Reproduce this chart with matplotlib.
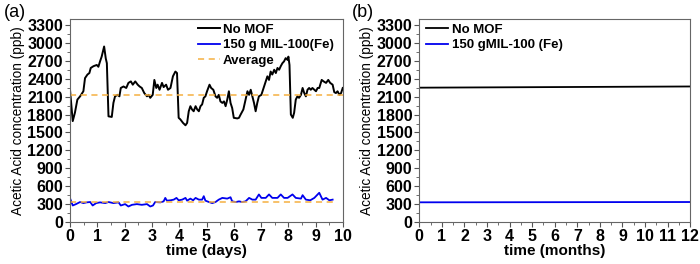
import numpy as np
import matplotlib
matplotlib.use("Agg")
import matplotlib.pyplot as plt
from matplotlib.ticker import MultipleLocator

plt.rcParams["font.family"] = ["Liberation Sans", "DejaVu Sans"]

# panel (a): daily trace without MOF
days_nomof = [0.0, 0.1, 0.18, 0.27, 0.37, 0.49, 0.55, 0.64, 0.71, 0.76, 0.86, 0.98, 1.04, 1.10,
              1.16, 1.25, 1.31, 1.35, 1.41, 1.53, 1.59, 1.65, 1.74, 1.81, 1.86, 1.96, 2.06, 2.14,
              2.23, 2.30, 2.39, 2.48, 2.55, 2.63, 2.72, 2.82, 2.88, 2.94, 3.03, 3.09, 3.16, 3.21,
              3.28, 3.37, 3.43, 3.52, 3.59, 3.68, 3.77, 3.86, 3.92, 3.98, 4.04, 4.14, 4.23, 4.29,
              4.35, 4.41, 4.47, 4.53, 4.60, 4.66, 4.72, 4.78, 4.84, 4.90, 4.96, 5.02, 5.11, 5.17,
              5.25, 5.33, 5.39, 5.45, 5.51, 5.58, 5.64, 5.70, 5.76, 5.82, 5.88, 5.94, 6.00, 6.13,
              6.19, 6.25, 6.35, 6.43, 6.50, 6.56, 6.62, 6.68, 6.74, 6.80, 6.86, 6.92, 7.01, 7.11,
              7.17, 7.23, 7.29, 7.35, 7.41, 7.48, 7.54, 7.60, 7.66, 7.72, 7.78, 7.84, 7.90, 7.97,
              8.00, 8.04, 8.09, 8.16, 8.21, 8.27, 8.33, 8.39, 8.46, 8.52, 8.58, 8.64, 8.70, 8.76,
              8.82, 8.88, 8.95, 9.01, 9.07, 9.13, 9.22, 9.29, 9.38, 9.46, 9.53, 9.62, 9.68, 9.74,
              9.80, 9.87, 9.93, 9.99]
ppb_nomof = [2217, 1690, 1830, 2050, 2105, 2190, 2410, 2470, 2495, 2580, 2610, 2630, 2600, 2690,
             2770, 2940, 2740, 2660, 1770, 1760, 1995, 2105, 2130, 2105, 2245, 2270, 2245, 2330,
             2355, 2300, 2355, 2300, 2270, 2245, 2160, 2105, 2130, 2080, 2130, 2380, 2245, 2300,
             2215, 2330, 2260, 2300, 2215, 2245, 2440, 2520, 2495, 1745, 1720, 1660, 1620, 1660,
             1855, 1940, 1885, 1855, 1940, 1885, 1855, 1940, 1970, 2080, 2105, 2190, 2300, 2245,
             2215, 2105, 2080, 2130, 2020, 1995, 2020, 1940, 2050, 2190, 1995, 1910, 1745, 1735,
             1745, 1800, 1885, 2050, 2190, 2130, 2215, 2105, 1995, 1855, 1995, 2105, 2130, 2270,
             2355, 2440, 2380, 2520, 2470, 2550, 2495, 2580, 2550, 2610, 2660, 2690, 2745, 2715,
             2770, 2630, 1800, 1745, 1830, 2050, 2105, 2080, 2130, 2245, 2160, 2105, 2215, 2245,
             2215, 2245, 2215, 2190, 2245, 2245, 2380, 2355, 2330, 2380, 2330, 2300, 2175, 2160,
             2190, 2130, 2160, 2245]

# panel (a): daily trace with 150 g MIL-100(Fe)
days_mof = [0.02, 0.1, 0.22, 0.37, 0.49, 0.61, 0.74, 0.83, 0.96, 1.10, 1.29, 1.41, 1.59, 1.78,
            1.86, 2.02, 2.14, 2.27, 2.45, 2.63, 2.82, 2.94, 3.04, 3.12, 3.31, 3.43, 3.49, 3.55,
            3.68, 3.80, 3.90, 3.98, 4.11, 4.23, 4.29, 4.41, 4.51, 4.60, 4.72, 4.84, 4.90, 4.96,
            5.09, 5.21, 5.33, 5.45, 5.58, 5.76, 5.88, 5.94, 6.07, 6.19, 6.31, 6.43, 6.56, 6.68,
            6.80, 6.92, 7.01, 7.17, 7.29, 7.41, 7.60, 7.72, 7.84, 7.97, 8.15, 8.27, 8.46, 8.52,
            8.64, 8.80, 8.95, 9.13, 9.25, 9.38, 9.50, 9.62]
ppb_mof = [375, 277, 300, 335, 317, 329, 335, 277, 317, 329, 317, 335, 317, 329,
           277, 300, 260, 288, 300, 288, 300, 260, 277, 335, 329, 346, 404, 358,
           364, 375, 404, 364, 375, 404, 358, 392, 364, 404, 375, 375, 433, 358,
           335, 317, 335, 375, 404, 392, 415, 346, 335, 346, 335, 346, 404, 375,
           375, 462, 404, 404, 462, 404, 404, 462, 404, 404, 462, 404, 392, 450,
           375, 364, 404, 490, 375, 404, 364, 375]

avg_nomof = 2120
avg_mof = 340

# panel (b): monthly trend
months = [0, 12]
ppb_nomof_month = [2250, 2270]
ppb_mof_month = [330, 335]

ORANGE = "#f5b041"
BLUE = "#0000ee"

fig = plt.figure(figsize=(7, 2.64), dpi=100)
ax1 = fig.add_axes([0.1, 0.159, 0.39, 0.769])
ax2 = fig.add_axes([0.599, 0.159, 0.387, 0.769])


def style_axis(ax, xmax, xlabel):
    ax.set_xlim(0, xmax)
    ax.set_ylim(0, 3400)
    ax.xaxis.set_major_locator(MultipleLocator(1))
    ax.xaxis.set_minor_locator(MultipleLocator(0.5))
    ax.yaxis.set_major_locator(MultipleLocator(300))
    ax.yaxis.set_minor_locator(MultipleLocator(150))
    ax.tick_params(which="major", direction="out", length=3.5, width=0.8,
                   labelsize=11.5, pad=1.5, colors="#555555", labelcolor="black")
    ax.tick_params(which="minor", direction="out", length=2, width=0.6, colors="#555555")
    for lab in ax.get_xticklabels() + ax.get_yticklabels():
        lab.set_fontweight("bold")
    for sp in ax.spines.values():
        sp.set_color("#666666")
        sp.set_linewidth(0.8)
    ax.set_xlabel(xlabel, fontsize=11, fontweight="bold", labelpad=0)
    ax.set_ylabel("Acetic Acid concentration (ppb)", fontsize=9.8, labelpad=2)


# (a)
ax1.plot(days_nomof, ppb_nomof, color="black", lw=1.4, label="No MOF")
ax1.plot(days_mof, ppb_mof, color=BLUE, lw=1.3, label="150 g MIL-100(Fe)")
ax1.axhline(avg_nomof, color=ORANGE, lw=1.1, ls=(0, (4, 3)), label="Average")
ax1.plot([0, days_mof[-1] + 0.05], [avg_mof, avg_mof], color=ORANGE, lw=1.1, ls=(0, (4, 3)))
style_axis(ax1, 10, "time (days)")
ax1.legend(loc="upper right", frameon=False, prop={"weight": "bold", "size": 9.5},
           handlelength=1.7, handletextpad=0.2, labelspacing=0.25,
           borderaxespad=0.1, bbox_to_anchor=(0.99, 1.01))
fig.text(0.005, 0.935, "(a)", fontsize=13)

# (b)
ax2.plot(months, ppb_nomof_month, color="black", lw=1.3, label="No MOF")
ax2.plot(months, ppb_mof_month, color=BLUE, lw=1.3, label="150 gMIL-100 (Fe)")
style_axis(ax2, 12, "time (months)")
ax2.legend(loc="upper left", frameon=False, prop={"weight": "bold", "size": 9.5},
           handlelength=1.7, handletextpad=0.3, labelspacing=0.25,
           borderaxespad=0.1, bbox_to_anchor=(0.0, 1.01))
fig.text(0.503, 0.935, "(b)", fontsize=13)

fig.savefig("out.png", dpi=100)
